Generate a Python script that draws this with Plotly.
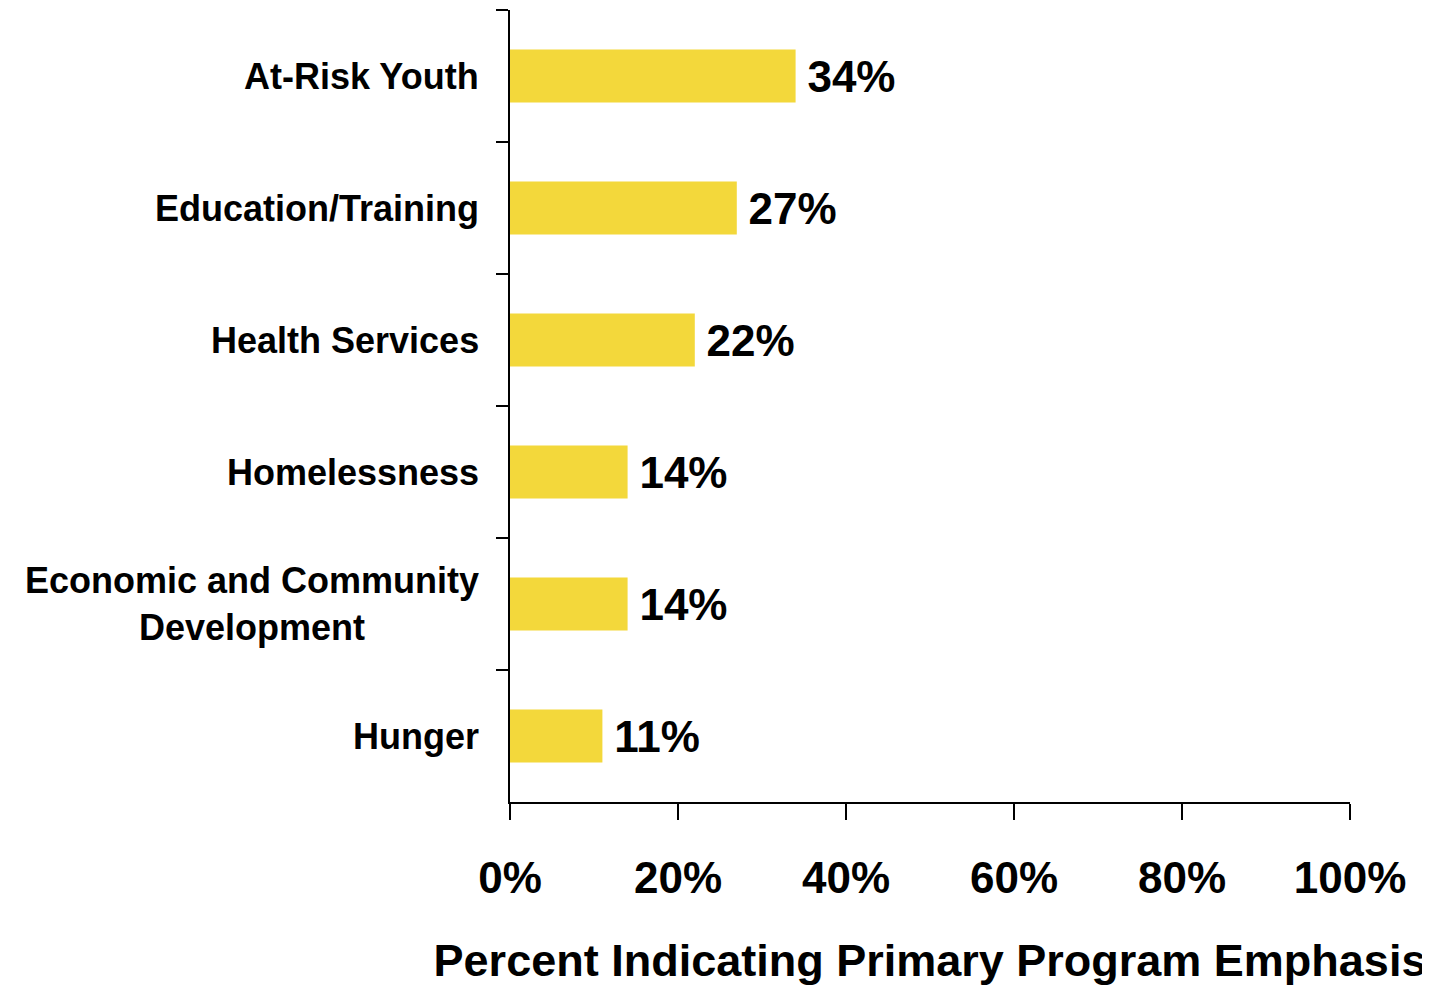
import plotly.graph_objects as go

categories = ["At-Risk Youth", "Education/Training", "Health Services", "Homelessness",
              "Economic and Community<br>Development", "Hunger"]
values = [34, 27, 22, 14, 14, 11]
x_ticks = [0, 20, 40, 60, 80, 100]
x_tick_labels = ["0%", "20%", "40%", "60%", "80%", "100%"]

FONT = "Liberation Sans Narrow, Arial Narrow, Liberation Sans, Arial, sans-serif"
BAR_COLOR = "#F3D83B"

fig = go.Figure()
fig.add_trace(go.Bar(
    x=values, y=categories, orientation="h",
    marker=dict(color=BAR_COLOR, line=dict(width=0)),
    width=0.4,
    text=[f"\u2009{v}%" for v in values],
    textposition="outside",
    constraintext="none",
    cliponaxis=False,
    textfont=dict(family=FONT, size=44, color="black", weight="bold"),
    hoverinfo="skip",
))

for c in categories:
    fig.add_annotation(
        x=0, xref="paper", y=c, yref="y", text=c,
        xanchor="right", yanchor="middle", align="center", xshift=-29,
        showarrow=False,
        font=dict(family=FONT, size=36, color="black", weight="bold"),
    )

# The page body adds an 8px offset, so the figure is sized/margined to compensate.
fig.update_layout(
    width=1422, height=980,
    margin=dict(l=502, r=80, t=2, b=186),
    paper_bgcolor="white", plot_bgcolor="white",
    showlegend=False,
    font=dict(family=FONT, color="black"),
)
fig.update_xaxes(
    range=[0, 100], tickvals=x_ticks, ticktext=x_tick_labels,
    ticks="outside", ticklen=16, tickwidth=2, tickcolor="black",
    showline=True, linecolor="black", linewidth=2,
    showgrid=False, zeroline=False, automargin=False,
    tickfont=dict(family=FONT, size=44, color="black", weight="bold"),
    ticklabelstandoff=20,
    title=dict(text="Percent Indicating Primary Program Emphasis",
               font=dict(family=FONT, size=45, color="black", weight="bold"),
               standoff=44),
)
fig.update_yaxes(
    autorange="reversed", type="category",
    tickson="boundaries", ticks="outside", ticklen=12, tickwidth=2, tickcolor="black",
    showline=True, linecolor="black", linewidth=2,
    showgrid=False, zeroline=False, showticklabels=False, automargin=False,
)

fig.write_html("out.html")
